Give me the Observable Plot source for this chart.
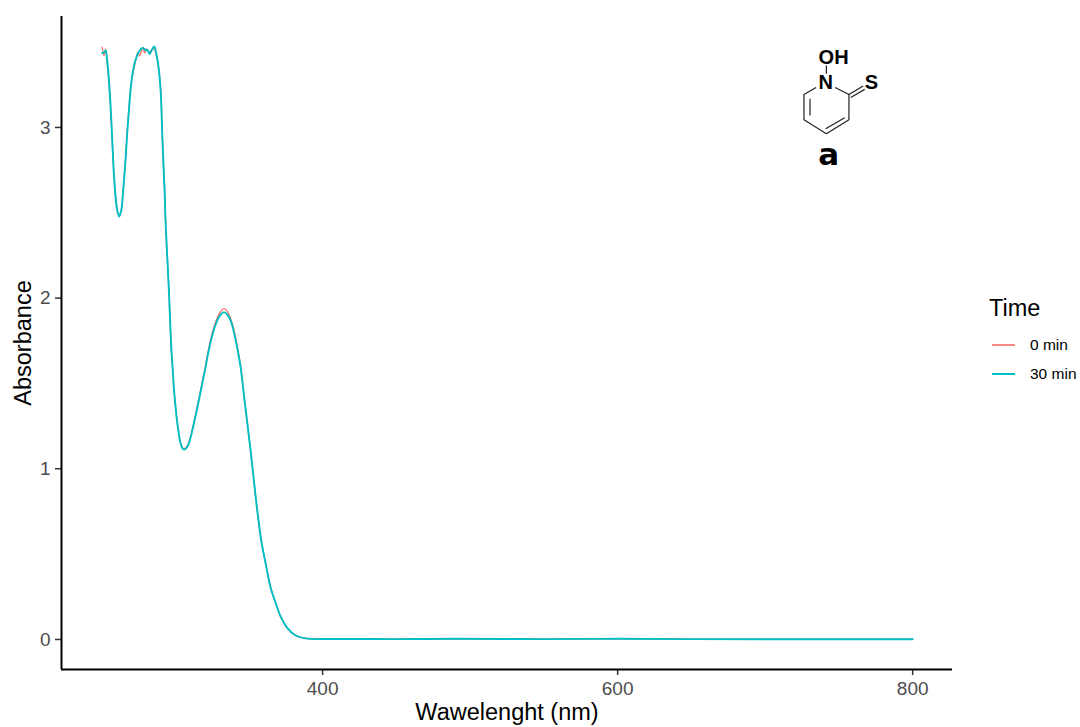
<!DOCTYPE html>
<html>
<head>
<meta charset="utf-8">
<script src="https://cdn.jsdelivr.net/npm/d3@7"></script>
<script src="https://cdn.jsdelivr.net/npm/@observablehq/plot@0.6"></script>
<style>
  html, body { margin: 0; padding: 0; background: #fff; }
  #chart { position: relative; width: 1080px; height: 727px; font-family: "Liberation Sans", Arial, sans-serif; }
  #legend { position: absolute; left: 989px; top: 295px; color: #000; }
  #legend .title { font-size: 23.5px; line-height: 26px; }
  #legend .row { position: absolute; left: 3px; width: 90px; height: 20px; font-size: 15.5px; line-height: 20px; white-space: nowrap; }
  #legend .sw { position: absolute; left: 0; top: 9px; width: 23px; height: 2px; }
  #legend .lb { position: absolute; left: 38px; top: 0; }
</style>
</head>
<body>
<div id="chart"></div>
<script>
const wavelengths = [250.6,251.8,252.9,254,255,256.3,257.5,258.5,259.7,260.8,262.1,263.5,264.8,266.4,267.5,268.7,269.8,271,272.5,274,274.8,276,277.3,278.3,279.3,280.3,281.2,282,282.7,284,285.9,287.2,288.6,290.2,291.3,292.4,292.9,293.6,294.7,295.8,296.7,297.6,298.4,299.3,300.3,301.2,302.2,303.7,305,306.4,308,309.4,311,312.7,316.1,318.4,320.7,321.8,325.2,328.6,330.8,333.1,335.4,337.6,339.9,342.2,344.4,347.1,349,351.2,353.4,355.7,358.4,361.4,364.7,368.1,371.5,376,381.7,388.5,397.5,400,450,490,550,600,650,700,750,800];
const abs30 = [3.436,3.44,3.45,3.39,3.295,3.12,2.906,2.73,2.59,2.513,2.478,2.513,2.63,2.807,2.963,3.1,3.217,3.305,3.375,3.415,3.433,3.45,3.463,3.465,3.46,3.45,3.455,3.44,3.43,3.45,3.475,3.433,3.363,3.217,2.96,2.72,2.63,2.436,2.24,2.045,1.85,1.68,1.58,1.46,1.365,1.29,1.225,1.15,1.12,1.113,1.125,1.15,1.2,1.264,1.4,1.5,1.595,1.65,1.781,1.869,1.902,1.918,1.904,1.869,1.80,1.705,1.595,1.4,1.264,1.107,0.932,0.756,0.58,0.444,0.306,0.215,0.135,0.068,0.023,0.006,0.002,0.003,0.002,0.004,0.002,0.004,0.002,0.001,0.001,0.001];
const abs0 = [3.47,3.42,3.46,3.37,3.28,3.11,2.9,2.73,2.59,2.515,2.48,2.515,2.635,2.815,2.975,3.11,3.225,3.3,3.36,3.42,3.44,3.42,3.45,3.47,3.435,3.46,3.45,3.445,3.44,3.455,3.46,3.43,3.37,3.225,2.96,2.72,2.63,2.436,2.24,2.045,1.85,1.68,1.58,1.46,1.365,1.29,1.225,1.15,1.124,1.118,1.13,1.155,1.205,1.27,1.41,1.51,1.607,1.662,1.797,1.885,1.92,1.938,1.922,1.882,1.815,1.717,1.603,1.405,1.264,1.107,0.932,0.756,0.58,0.444,0.306,0.215,0.135,0.068,0.023,0.006,0.002,0.003,0.002,0.004,0.002,0.004,0.002,0.001,0.001,0.001];

const seriesNames = ["0 min", "30 min"];
const seriesColors = ["#F8766D", "#00BFC4"];
const xTicks = [400, 600, 800];
const yTicks = [0, 1, 2, 3];
const xTitle = "Wawelenght (nm)";
const yTitle = "Absorbance";
const legendTitle = "Time";

// Structure inset, in the chart's own units (wavelength, absorbance)
const ringX = [734.2,726.3,726.3,741.5,756.8,756.8,747.8];
const ringY = [3.233,3.193,3.045,2.963,3.045,3.193,3.233];
const bondX1 = [730.4,741,741.5,756.8,758];
const bondY1 = [3.168,2.992,3.363,3.193,3.176];
const bondX2 = [730.4,753.9,741.5,766.4,767.5];
const bondY2 = [3.07,3.057,3.315,3.243,3.223];
const atomLabels = ["OH","N","S"];
const atomX = [746.4,741,772];
const atomY = [3.41,3.26,3.26];
const compoundLabel = ["a"];
const compoundX = [743];
const compoundY = [2.836];

const rows = s => wavelengths.map((w, i) => ({w, a: s === 0 ? abs0[i] : abs30[i], s: seriesNames[s]}));
const ring = ringX.map((x, i) => ({x, y: ringY[i]}));
const bonds = bondX1.map((x, i) => ({x1: x, y1: bondY1[i], x2: bondX2[i], y2: bondY2[i]}));
const atoms = atomLabels.map((t, i) => ({t, x: atomX[i], y: atomY[i]}));

const xMin = 223, xMax = 827, yMin = -0.176, yMax = 3.65;
const font = '"Liberation Sans", Arial, sans-serif';

const plot = Plot.plot({
  width: 1080, height: 727,
  marginLeft: 61, marginRight: 128, marginTop: 16, marginBottom: 58,
  style: {fontFamily: font, background: "#fff", overflow: "visible"},
  x: {domain: [xMin, xMax], label: null},
  y: {domain: [yMin, yMax], label: null},
  color: {domain: seriesNames, range: seriesColors},
  marks: [
    Plot.axisX({ticks: xTicks, tickSize: 6, tickPadding: 6, fontSize: 19, color: "#4d4d4d", stroke: "#333", strokeWidth: 1.5, label: null, tickFormat: d => String(d)}),
    Plot.axisY({ticks: yTicks, tickSize: 6, tickPadding: 5, fontSize: 19, color: "#4d4d4d", stroke: "#333", strokeWidth: 1.5, label: null, tickFormat: d => String(d)}),
    Plot.ruleX([xMin], {stroke: "#000", strokeWidth: 2}),
    Plot.ruleY([yMin], {stroke: "#000", strokeWidth: 2}),
    Plot.line(rows(0), {x: "w", y: "a", stroke: "s", strokeWidth: 1.3, curve: "catmull-rom"}),
    Plot.line(rows(1), {x: "w", y: "a", stroke: "s", strokeWidth: 1.9, curve: "catmull-rom"}),
    Plot.line(ring, {x: "x", y: "y", stroke: "#222", strokeWidth: 1.2}),
    Plot.link(bonds, {x1: "x1", y1: "y1", x2: "x2", y2: "y2", stroke: "#222", strokeWidth: 1.2}),
    Plot.text(atoms, {x: "x", y: "y", text: "t", fontSize: 20, fontWeight: "bold", fill: "#000"}),
    Plot.text(compoundLabel, {x: compoundX, y: compoundY, text: d => d, fontSize: 31, fontWeight: "bold", fontFamily: '"DejaVu Sans"', fill: "#000"}),
    Plot.text([xTitle], {frameAnchor: "bottom", dy: 50, text: d => d, fontSize: 23.5, fill: "#000"}),
    Plot.text([yTitle], {frameAnchor: "left", dx: -38, rotate: -90, textAnchor: "middle", text: d => d, fontSize: 23.5, fill: "#000"})
  ]
});

const chart = document.getElementById("chart");
chart.appendChild(plot);

const legend = document.createElement("div");
legend.id = "legend";
const title = document.createElement("div");
title.className = "title";
title.textContent = legendTitle;
legend.appendChild(title);
const rowTops = [40, 69];
seriesNames.forEach((name, i) => {
  const row = document.createElement("div");
  row.className = "row";
  row.style.top = rowTops[i] + "px";
  const sw = document.createElement("span");
  sw.className = "sw";
  sw.style.background = seriesColors[i];
  if (i === 0) sw.style.opacity = 0.85;
  const lb = document.createElement("span");
  lb.className = "lb";
  lb.textContent = name;
  row.appendChild(sw);
  row.appendChild(lb);
  legend.appendChild(row);
});
chart.appendChild(legend);
</script>
</body>
</html>
